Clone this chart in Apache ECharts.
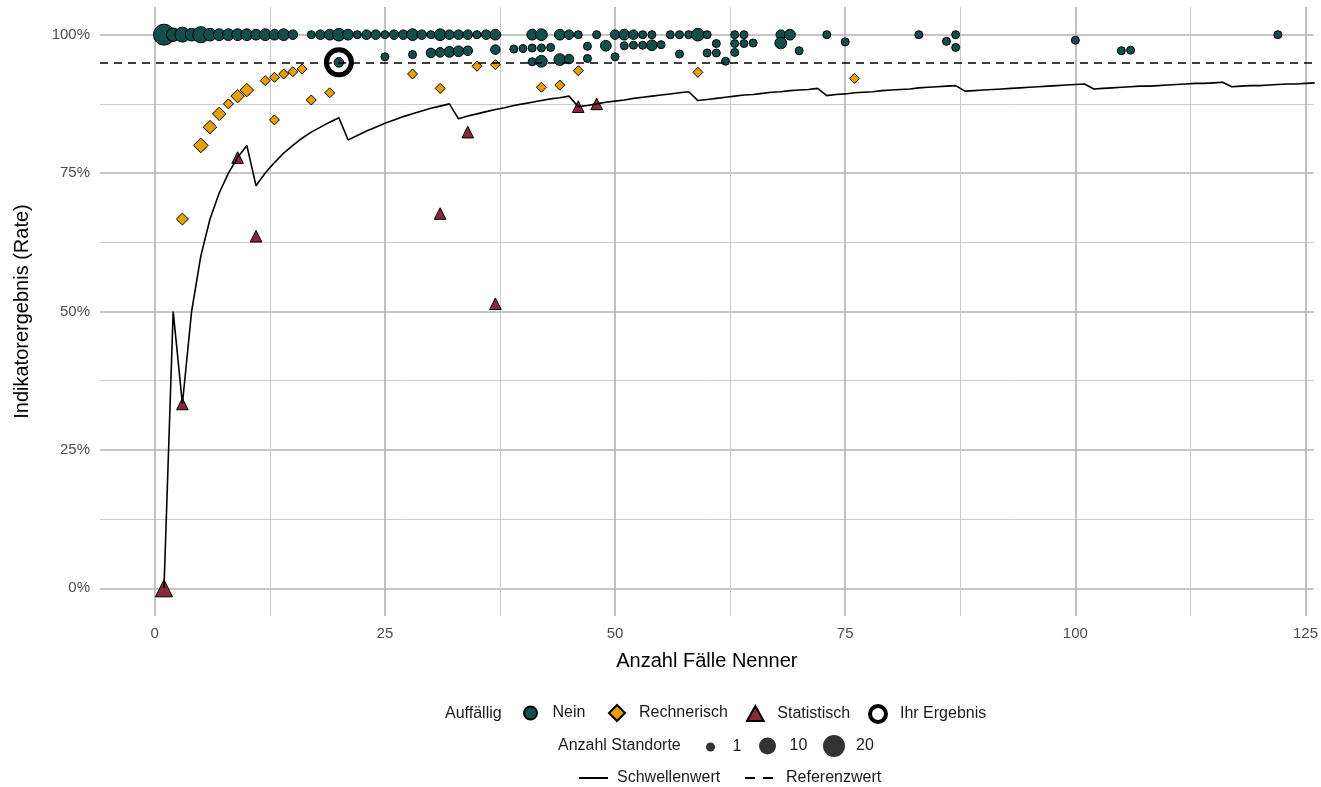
<!doctype html>
<html>

	<head>
		<meta charset="UTF-8">
		<title>Indikatorergebnis</title>
		<script src="https://cdn.jsdelivr.net/npm/echarts@6/dist/echarts.min.js"></script>
		<style>
			html,
			body {
				margin: 0;
				padding: 0;
				background: #ffffff;
			}
			
			#chart {
				width: 1321px;
				height: 787px;
			}
		</style>
	</head>

	<body>
		<div id="chart"></div>

		<script type="text/javascript">
			// Achsen
			var xTicks = [0, 25, 50, 75, 100, 125];
			var xMinorTicks = [12.5, 37.5, 62.5, 87.5, 112.5];
			var yTicks = [0, 25, 50, 75, 100];
			var yMinorTicks = [12.5, 37.5, 62.5, 87.5];

			// Auffällig: Nein (Nenner, Rate in %, Anzahl Standorte)
			var neinNenner = [1, 2, 3, 4, 5, 6, 7, 8, 9, 10, 11, 12, 13, 14, 15, 17, 18, 19, 20, 21, 22, 23, 24, 25, 26, 27, 28, 29, 30, 31, 32, 33, 34, 35, 36, 37, 41, 42, 44, 45, 46, 48, 50, 51, 52, 53, 54, 56, 57, 58, 59, 60, 63, 64, 68, 69, 73, 83, 87, 122,
				20, 25, 28, 30, 31, 32, 33, 34, 37, 39, 40, 41, 42, 43, 47, 49, 51, 52, 53, 54, 55, 61, 63, 64, 65, 68, 75, 86, 100,
				41, 42, 44, 45, 47, 50, 57, 60, 61, 63, 62, 70, 87, 105, 106
			];
			var neinRate = [100, 100, 100, 100, 100, 100, 100, 100, 100, 100, 100, 100, 100, 100, 100, 100, 100, 100, 100, 100, 100, 100, 100, 100, 100, 100, 100, 100, 100, 100, 100, 100, 100, 100, 100, 100, 100, 100, 100, 100, 100, 100, 100, 100, 100, 100, 100, 100, 100, 100, 100, 100, 100, 100, 100, 100, 100, 100, 100, 100,
				95.0, 96.0, 96.4, 96.7, 96.8, 96.9, 97.0, 97.1, 97.3, 97.4, 97.5, 97.6, 97.6, 97.7, 97.9, 98.0, 98.0, 98.1, 98.1, 98.1, 98.2, 98.4, 98.4, 98.4, 98.5, 98.5, 98.7, 98.8, 99.0,
				95.1, 95.2, 95.5, 95.6, 95.7, 96.0, 96.5, 96.7, 96.7, 96.8, 95.2, 97.1, 97.7, 97.1, 97.2
			];
			var neinStandorte = [20, 6, 8, 5, 10, 5, 4, 4, 4, 4, 3, 4, 3, 4, 2, 1, 2, 3, 5, 3, 1, 2, 2, 1, 2, 2, 4, 2, 1, 4, 2, 2, 2, 1, 2, 3, 3, 4, 3, 2, 1, 1, 2, 3, 2, 1, 1, 1, 1, 1, 5, 1, 1, 1, 2, 3, 1, 1, 1, 1,
				2, 1, 1, 2, 2, 3, 3, 2, 2, 1, 1, 1, 1, 1, 1, 3, 1, 1, 1, 3, 1, 1, 1, 1, 1, 4, 1, 1, 1,
				1, 4, 4, 2, 1, 1, 1, 1, 1, 1, 1, 1, 1, 1, 1
			];

			// Auffällig: Rechnerisch
			var rechNenner = [3, 5, 6, 7, 8, 9, 10, 12, 13, 14, 15, 16, 13, 17, 19, 28, 31, 35, 37, 42, 44, 46, 59, 76];
			var rechRate = [66.7, 80.0, 83.3, 85.7, 87.5, 88.9, 90.0, 91.7, 92.3, 92.9, 93.3, 93.8, 84.6, 88.2, 89.5, 92.9, 90.3, 94.3, 94.6, 90.5, 90.9, 93.5, 93.2, 92.1];
			var rechStandorte = [2, 4, 3, 3, 1, 3, 3, 1, 1, 1, 1, 1, 1, 1, 1, 1, 1, 1, 1, 1, 1, 1, 1, 1];

			// Auffällig: Statistisch
			var statNenner = [1, 3, 9, 11, 31, 34, 37, 46, 48];
			var statRate = [0, 33.3, 77.8, 63.6, 67.7, 82.4, 51.4, 87.0, 87.5];
			var statStandorte = [4, 1, 1, 1, 1, 1, 1, 1, 1];

			// Ihr Ergebnis
			var ihrNenner = [20];
			var ihrRate = [95.0];

			// Referenzwert
			var referenzwert = 95;

			// Schwellenwert je Nenner 1..126
			var schwelleWerte = [
				0, 50, 33.3, 50, 60, 66.7, 71.4, 75, 77.8, 80,
				72.7, 75, 76.9, 78.6, 80, 81.3, 82.4, 83.3, 84.2, 85,
				81, 81.8, 82.6, 83.3, 84, 84.6, 85.2, 85.7, 86.2, 86.7,
				87.1, 87.5, 84.8, 85.3, 85.7, 86.1, 86.5, 86.8, 87.2, 87.5,
				87.8, 88.1, 88.4, 88.6, 88.9, 87, 87.2, 87.5, 87.8, 88,
				88.2, 88.5, 88.7, 88.9, 89.1, 89.3, 89.5, 89.7, 88.1, 88.3,
				88.5, 88.7, 88.9, 89.1, 89.2, 89.4, 89.6, 89.7, 89.9, 90,
				90.1, 90.3, 89, 89.2, 89.3, 89.5, 89.6, 89.7, 89.9, 90,
				90.1, 90.2, 90.4, 90.5, 90.6, 90.7, 90.8, 89.8, 89.9, 90,
				90.1, 90.2, 90.3, 90.4, 90.5, 90.6, 90.7, 90.8, 90.9, 91,
				91.1, 90.2, 90.3, 90.4, 90.5, 90.6, 90.7, 90.7, 90.8, 90.9,
				91, 91.1, 91.2, 91.2, 91.3, 91.4, 90.6, 90.7, 90.8, 90.8,
				90.9, 91, 91.1, 91.1, 91.2, 91.3
			];

			var FONT = "'Liberation Sans', Arial, sans-serif";

			function punktGroesse(anzahl) {
				return 8 + 3.75 * (Math.sqrt(anzahl) - 1);
			}

			function punkte(nenner, rate, anzahl) {
				var arr = [];
				for(var i = 0; i < nenner.length; i++) {
					arr.push([nenner[i], rate[i], anzahl ? anzahl[i] : 1]);
				}
				return arr;
			}

			var schwelleDaten = [];
			for(var i = 0; i < schwelleWerte.length; i++) {
				schwelleDaten.push([i + 1, schwelleWerte[i]]);
			}

			// eine Legende pro Eintrag, damit die Abstände wie im Original sind
			function legende(eintrag, left, top, w, h, extra, textPad) {
				var l = {
					data: [eintrag],
					left: left,
					top: top,
					padding: 0,
					itemWidth: w,
					itemHeight: h,
					selectedMode: false,
					textStyle: {
						fontSize: 16,
						color: '#1a1a1a',
						fontFamily: FONT,
						padding: [0, 0, 0, textPad || 0]
					}
				};
				if(extra) {
					for(var k in extra) l[k] = extra[k];
				}
				return l;
			}

			var majorLine = {
				show: true,
				lineStyle: {
					color: '#b3b3b3',
					width: 1.6
				}
			};
			var minorLine = {
				show: true,
				lineStyle: {
					color: '#cccccc',
					width: 1
				}
			};

			var option = {
				animation: false,
				backgroundColor: '#ffffff',
				textStyle: {
					fontFamily: FONT
				},
				grid: {
					left: 100,
					right: 3,
					top: 7,
					bottom: 171
				},
				title: [{
					text: 'Auffällig',
					left: 445,
					top: 706,
					padding: 0,
					textStyle: {
						fontSize: 16,
						fontWeight: 'normal',
						color: '#1a1a1a',
						fontFamily: FONT
					}
				}, {
					text: 'Anzahl Standorte',
					left: 558,
					top: 738,
					padding: 0,
					textStyle: {
						fontSize: 16,
						fontWeight: 'normal',
						color: '#1a1a1a',
						fontFamily: FONT
					}
				}],
				legend: [
					legende({ name: 'Nein', icon: 'circle' }, 523, 705, 34, 13),
					legende({ name: 'Rechnerisch', icon: 'path://M5,0L10,5L5,10L0,5Z' }, 608, 704, 34, 16),
					legende({ name: 'Statistisch', icon: 'path://M5,0L10,9L0,9Z' }, 746, 705, 34, 15),
					legende({ name: 'Ihr Ergebnis', icon: 'circle', itemStyle: { borderWidth: 4 } }, 868, 704, 34, 16),
					legende({ name: '1', icon: 'circle' }, 706, 739, 34, 9),
					legende({ name: '10', icon: 'circle' }, 759, 737.5, 34, 17),
					legende({ name: '20', icon: 'circle' }, 823, 735, 34, 22),
					legende({ name: 'Schwellenwert' }, 578, 770, 29, 4, { itemStyle: { opacity: 0 } }, 4),
					legende({ name: 'Referenzwert', lineStyle: { type: [10, 8] } }, 744, 770, 28, 4, { itemStyle: { opacity: 0 } }, 8)
				],
				xAxis: [{
					type: 'value',
					min: -5.95,
					max: 125.9,
					axisLine: {
						show: false
					},
					axisTick: {
						show: false,
						customValues: xTicks
					},
					axisLabel: {
						customValues: xTicks,
						color: '#4d4d4d',
						fontSize: 15,
						margin: 10,
						fontFamily: FONT
					},
					splitLine: majorLine,
					name: 'Anzahl Fälle Nenner',
					nameLocation: 'middle',
					nameGap: 35,
					nameTextStyle: {
						fontSize: 20,
						color: '#000000',
						fontFamily: FONT
					}
				}, {
					type: 'value',
					min: -5.95,
					max: 125.9,
					axisLine: {
						show: false
					},
					axisTick: {
						show: false,
						customValues: xMinorTicks
					},
					axisLabel: {
						show: false
					},
					splitLine: minorLine
				}],
				yAxis: [{
					type: 'value',
					min: -5,
					max: 105,
					axisLine: {
						show: false
					},
					axisTick: {
						show: false,
						customValues: yTicks
					},
					axisLabel: {
						customValues: yTicks,
						formatter: '{value}%',
						color: '#4d4d4d',
						fontSize: 15,
						margin: 10,
						fontFamily: FONT
					},
					splitLine: majorLine,
					name: 'Indikatorergebnis (Rate)',
					nameLocation: 'middle',
					nameGap: 68,
					nameRotate: 90,
					nameTextStyle: {
						fontSize: 20,
						color: '#000000',
						fontFamily: FONT
					}
				}, {
					type: 'value',
					min: -5,
					max: 105,
					axisLine: {
						show: false
					},
					axisTick: {
						show: false,
						customValues: yMinorTicks
					},
					axisLabel: {
						show: false
					},
					splitLine: minorLine
				}],
				series: [{
						name: 'Schwellenwert',
						type: 'line',
						data: schwelleDaten,
						symbol: 'none',
						xAxisIndex: 0,
						yAxisIndex: 0,
						lineStyle: {
							color: '#000000',
							width: 1.6
						},
						itemStyle: {
							color: '#000000'
						}
					},
					{
						name: 'Referenzwert',
						type: 'line',
						data: [],
						symbol: 'none',
						xAxisIndex: 0,
						yAxisIndex: 0,
						lineStyle: {
							color: '#000000',
							width: 1.6,
							type: [8, 6]
						},
						itemStyle: {
							color: '#000000'
						},
						markLine: {
							silent: true,
							symbol: 'none',
							label: {
								show: false
							},
							lineStyle: {
								color: '#000000',
								width: 1.6,
								type: [8, 6]
							},
							data: [{
								yAxis: referenzwert
							}]
						}
					},
					{
						name: 'Ihr Ergebnis',
						type: 'scatter',
						data: punkte(ihrNenner, ihrRate),
						symbol: 'circle',
						symbolSize: 25,
						itemStyle: {
							color: '#ffffff',
							borderColor: '#000000',
							borderWidth: 5,
							opacity: 1
						}
					},
					{
						name: 'Nein',
						type: 'scatter',
						data: punkte(neinNenner, neinRate, neinStandorte),
						symbol: 'circle',
						symbolSize: function(val) {
							return punktGroesse(val[2]);
						},
						itemStyle: {
							color: '#124f4c',
							borderColor: '#000000',
							borderWidth: 1,
							opacity: 1
						}
					},
					{
						name: 'Rechnerisch',
						type: 'scatter',
						data: punkte(rechNenner, rechRate, rechStandorte),
						symbol: 'diamond',
						symbolSize: function(val) {
							return punktGroesse(val[2]) * 1.25;
						},
						itemStyle: {
							color: '#e8a000',
							borderColor: '#000000',
							borderWidth: 1,
							opacity: 1
						}
					},
					{
						name: 'Statistisch',
						type: 'scatter',
						data: punkte(statNenner, statRate, statStandorte),
						symbol: 'triangle',
						symbolSize: function(val) {
							return punktGroesse(val[2]) * 1.45;
						},
						itemStyle: {
							color: '#8a283e',
							borderColor: '#000000',
							borderWidth: 1,
							opacity: 1
						}
					},
					// nur für die Legende der Anzahl Standorte
					{
						name: '1',
						type: 'scatter',
						data: [],
						symbol: 'circle',
						itemStyle: {
							color: '#000000'
						}
					},
					{
						name: '10',
						type: 'scatter',
						data: [],
						symbol: 'circle',
						itemStyle: {
							color: '#000000'
						}
					},
					{
						name: '20',
						type: 'scatter',
						data: [],
						symbol: 'circle',
						itemStyle: {
							color: '#000000'
						}
					}
				]
			};

			var chart = echarts.init(document.getElementById('chart'));
			chart.setOption(option);
		</script>
	</body>

</html>
